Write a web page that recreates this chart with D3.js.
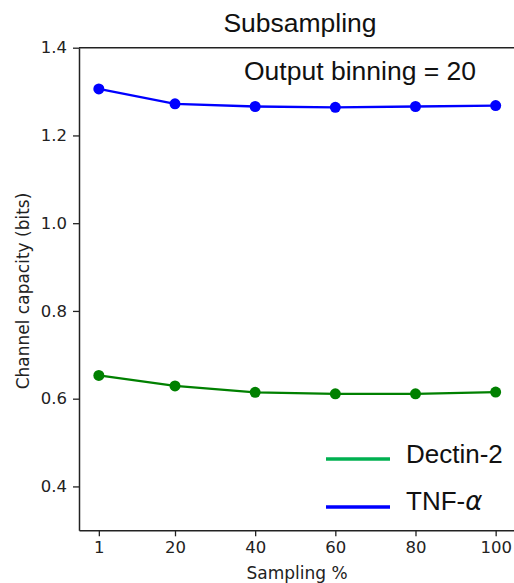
<!DOCTYPE html>
<html>
<head>
<meta charset="utf-8">
<script src="https://cdn.jsdelivr.net/npm/d3@7"></script>
<style>
  body { margin: 0; background: #fff; }
  svg { display: block; }
</style>
</head>
<body>
<svg id="chart" width="514" height="583"></svg>
<script>
// data
let sampling = [1, 20, 40, 60, 80, 100]
let tnf = [1.306, 1.272, 1.266, 1.264, 1.266, 1.268]
let dectin = [0.653, 0.629, 0.6145, 0.611, 0.611, 0.615]
let xTicks = [1, 20, 40, 60, 80, 100]
let yTicks = [0.4, 0.6, 0.8, 1.0, 1.2, 1.4]

let svg = d3.select('#chart')

// plot box
let plotLeft = 79
let plotRight = 515.5
let plotTop = 47.7
let plotBottom = 530.3

let x = d3.scaleLinear().domain([-3.95, 104.95]).range([plotLeft, plotRight])
let y = d3.scaleLinear().domain([0.3, 1.4]).range([plotBottom, plotTop])

let sans = '"Liberation Sans", Arial, sans-serif'
let tickFont = '"DejaVu Sans", sans-serif'

// title
svg.append('text')
  .attr('x', 300)
  .attr('y', 32)
  .attr('text-anchor', 'middle')
  .style('font-family', sans)
  .style('font-size', '26.5px')
  .style('fill', '#111')
  .text('Subsampling')

// axes
let xAxis = svg.append('g')
  .attr('transform', `translate(0,${plotBottom})`)
  .call(d3.axisBottom(x).tickValues(xTicks).tickSize(6).tickPadding(5).tickSizeOuter(0))
let yAxis = svg.append('g')
  .attr('transform', `translate(${plotLeft},0)`)
  .call(d3.axisLeft(y).tickValues(yTicks).tickSize(6).tickPadding(6).tickSizeOuter(0)
    .tickFormat(d3.format('.1f')))

;[xAxis, yAxis].forEach(function (g) {
  g.select('.domain').attr('stroke', '#222').attr('stroke-width', 1.5)
  g.selectAll('.tick line').attr('stroke', '#222').attr('stroke-width', 1.3)
  g.selectAll('.tick text')
    .style('font-family', tickFont)
    .style('font-size', '16.5px')
    .style('fill', '#222')
})

// top spine
svg.append('line')
  .attr('x1', plotLeft).attr('x2', plotRight)
  .attr('y1', plotTop).attr('y2', plotTop)
  .attr('stroke', '#222')
  .attr('stroke-width', 1.5)

// axis labels
svg.append('text')
  .attr('x', 297)
  .attr('y', 579)
  .attr('text-anchor', 'middle')
  .style('font-family', tickFont)
  .style('font-size', '17px')
  .style('fill', '#222')
  .text('Sampling %')

svg.append('text')
  .attr('transform', `translate(29,${(plotTop + plotBottom) / 2 + 2}) rotate(-90)`)
  .attr('text-anchor', 'middle')
  .style('font-family', tickFont)
  .style('font-size', '17px')
  .style('fill', '#222')
  .text('Channel capacity (bits)')

// annotation
svg.append('text')
  .attr('x', 244)
  .attr('y', 80)
  .style('font-family', sans)
  .style('font-size', '26.5px')
  .style('fill', '#111')
  .text('Output binning = 20')

// series
let series = [
  { name: 'TNF', values: tnf, color: '#0000ff' },
  { name: 'Dectin-2', values: dectin, color: '#008000' }
]

let line = d3.line()
  .x(d => x(d[0]))
  .y(d => y(d[1]))

series.forEach(function (s) {
  let pts = sampling.map((v, i) => [v, s.values[i]])
  svg.append('path')
    .datum(pts)
    .attr('d', line)
    .attr('fill', 'none')
    .attr('stroke', s.color)
    .attr('stroke-width', 2.3)
  svg.append('g')
    .selectAll('circle')
    .data(pts)
    .enter()
    .append('circle')
    .attr('cx', d => x(d[0]))
    .attr('cy', d => y(d[1]))
    .attr('r', 5.5)
    .attr('fill', s.color)
})

// legend
let legend = [
  { label: 'Dectin-2', color: '#00b050' },
  { label: 'TNF-', greek: 'α', color: '#0000ff' }
]
let lg = svg.append('g')
legend.forEach(function (l, i) {
  let ly = 459 + i * 48
  lg.append('line')
    .attr('x1', 326).attr('x2', 390)
    .attr('y1', ly).attr('y2', ly)
    .attr('stroke', l.color)
    .attr('stroke-width', 3.3)
  let t = lg.append('text')
    .attr('x', 406)
    .attr('y', ly + 4 - i)
    .style('font-family', sans)
    .style('font-size', '26px')
    .style('fill', '#111')
    .text(l.label)
  if (l.greek) {
    t.append('tspan')
      .style('font-family', '"DejaVu Sans", sans-serif')
      .style('font-style', 'oblique')
      .style('font-weight', '300')
      .text(l.greek)
  }
})
</script>
</body>
</html>
